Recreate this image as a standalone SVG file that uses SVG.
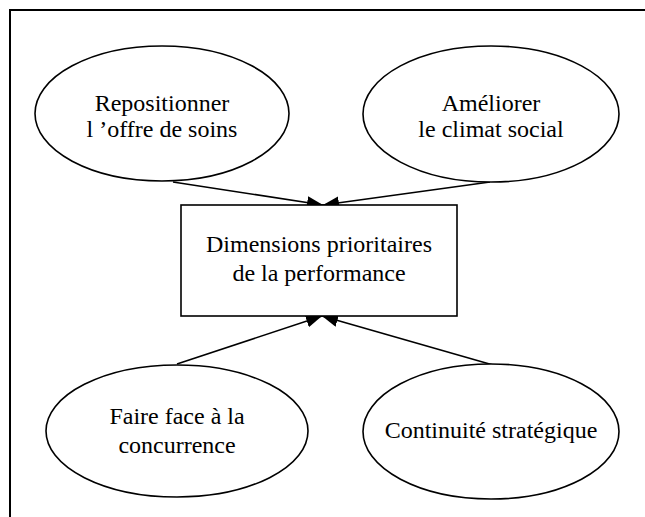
<svg xmlns="http://www.w3.org/2000/svg" width="645" height="517" viewBox="0 0 645 517">
  <style>
    .shape { fill: #ffffff; stroke: #000000; stroke-width: 1.6; }
    .frame { fill: none; stroke: #000000; stroke-width: 2; }
    .edge { fill: none; stroke: #000000; stroke-width: 1.6; marker-end: url(#arrow); }
    .label { font-family: 'Liberation Serif', 'Times New Roman', Times, serif; font-size: 24px; fill: #000000; text-anchor: middle; }
  </style>
  <defs>
    <marker id="arrow" markerUnits="userSpaceOnUse" markerWidth="18" markerHeight="14" refX="16" refY="6.5" orient="auto">
      <path d="M0,0 L16,6.5 L0,13 Z" fill="#000000"/>
    </marker>
  </defs>
  <rect width="645" height="517" fill="#ffffff"/>
  <!-- page frame: top and left rules -->
  <path class="frame" d="M10,517 L10,10 L645,10"/>

  <g id="connectors">
    <line class="edge" x1="173" y1="182" x2="323" y2="205"/>
    <line class="edge" x1="490" y1="182" x2="323" y2="205"/>
    <line class="edge" x1="177" y1="364" x2="322" y2="316"/>
    <line class="edge" x1="493" y1="365" x2="322" y2="316"/>
  </g>

  <g font-family="Liberation Serif, serif">
    <g id="repositionner">
      <ellipse class="shape" cx="162" cy="113.5" rx="127" ry="67.5"/>
      <text class="label" x="162" y="111">Repositionner</text>
      <text class="label" x="162" y="137">l ’offre de soins</text>
    </g>

    <g id="ameliorer">
      <ellipse class="shape" cx="491" cy="114" rx="128" ry="68"/>
      <text class="label" x="491" y="111">Améliorer</text>
      <text class="label" x="491" y="137">le climat social</text>
    </g>

    <g id="dimensions">
      <rect class="shape" x="181" y="205" width="276" height="111"/>
      <text class="label" x="319" y="252">Dimensions prioritaires</text>
      <text class="label" x="319" y="281">de la performance</text>
    </g>

    <g id="concurrence">
      <ellipse class="shape" cx="177" cy="431" rx="131" ry="66"/>
      <text class="label" x="177" y="424">Faire face à la</text>
      <text class="label" x="177" y="453">concurrence</text>
    </g>

    <g id="continuite">
      <ellipse class="shape" cx="491" cy="431.5" rx="128" ry="67.5"/>
      <text class="label" x="491" y="438">Continuité stratégique</text>
    </g>
  </g>
</svg>
